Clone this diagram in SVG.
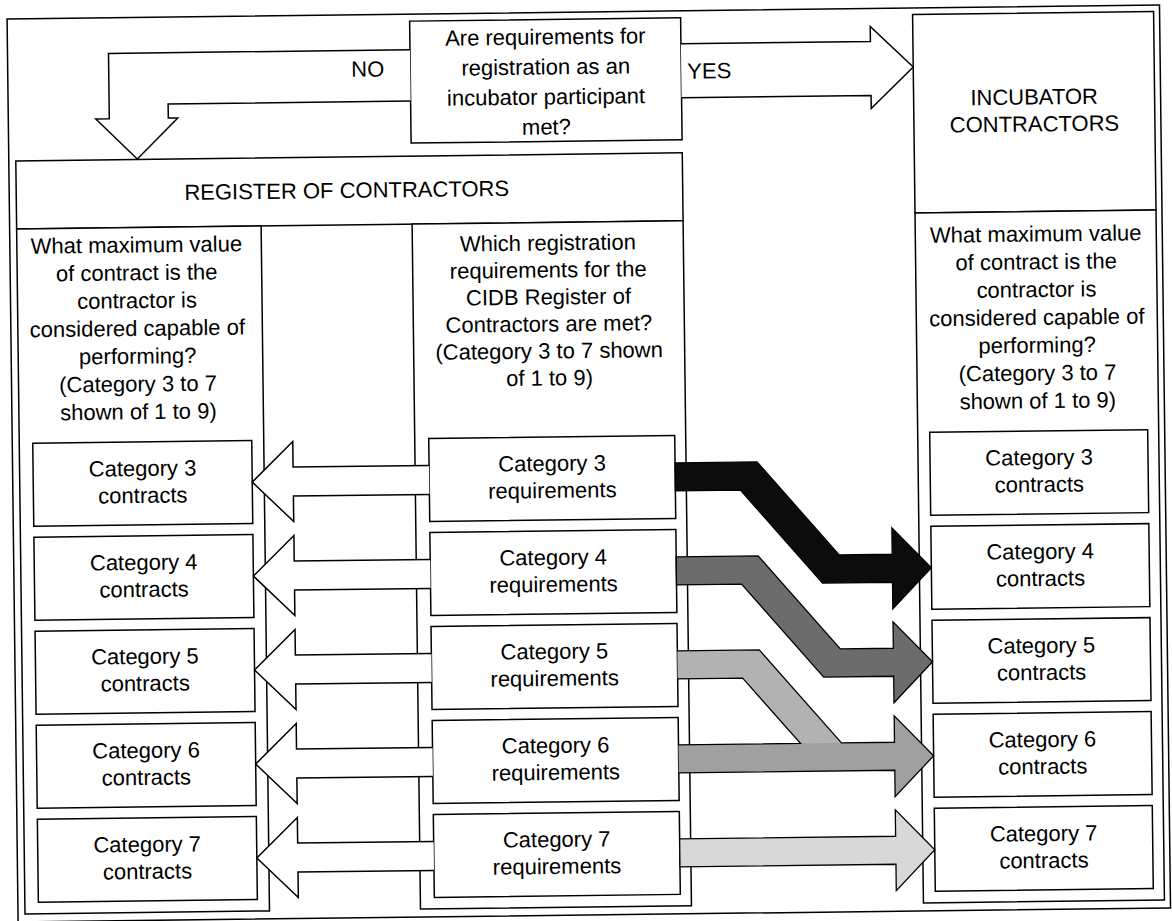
<svg xmlns="http://www.w3.org/2000/svg" width="1172" height="921" viewBox="0 0 1172 921">
<style>
.bx{fill:#fff;stroke:#000;stroke-width:1.5}
.ln{fill:none;stroke:#000;stroke-width:1.5}
.wa{fill:#fff;stroke:#000;stroke-width:1.5;stroke-linejoin:miter}
.ca{stroke:#000;stroke-width:1.3;stroke-linejoin:miter}
text{font-family:"Liberation Sans",Arial,sans-serif;font-size:22px;fill:#000;text-anchor:middle}
.st{text-anchor:start}
</style>
<rect width="1172" height="921" fill="#fff"/>
<g transform="rotate(-0.7 586 460)">
<rect id="frame" x="12.5" y="12" width="1152.5" height="903" class="ln"/>

<g id="question">
<rect x="415" y="19" width="271" height="122" class="bx"/>
<text x="550.5" y="44">Are requirements for</text>
<text x="550.5" y="74">registration as an</text>
<text x="550.5" y="104">incubator participant</text>
<text x="550.5" y="134">met?</text>
</g>

<g id="register">
<rect x="19.5" y="154" width="666.5" height="68" class="bx"/>
<text x="350" y="195">REGISTER OF CONTRACTORS</text>
</g>

<g id="left-column">
<rect x="19.5" y="222" width="244.5" height="685" class="bx"/>
<text x="139" y="247">What maximum value</text>
<text x="139" y="274.8">of contract is the</text>
<text x="139" y="302.6">contractor is</text>
<text x="139" y="330.4">considered capable of</text>
<text x="139" y="358.2">performing?</text>
<text x="139" y="386">(Category 3 to 7</text>
<text x="139" y="413.8">shown of 1 to 9)</text>
</g>

<g id="middle-column">
<rect x="415" y="222" width="271" height="685" class="bx"/>
<text x="550.5" y="250">Which registration</text>
<text x="550.5" y="277">requirements for the</text>
<text x="550.5" y="304">CIDB Register of</text>
<text x="550.5" y="331">Contractors are met?</text>
<text x="550.5" y="358">(Category 3 to 7 shown</text>
<text x="550.5" y="385">of 1 to 9)</text>
</g>

<g id="incubator">
<rect x="918" y="18.5" width="241" height="198.5" class="bx"/>
<text x="1038.5" y="110">INCUBATOR</text>
<text x="1038.5" y="137">CONTRACTORS</text>
</g>

<g id="right-column">
<rect x="918" y="217" width="241" height="690" class="bx"/>
<text x="1038.5" y="247">What maximum value</text>
<text x="1038.5" y="274.8">of contract is the</text>
<text x="1038.5" y="302.6">contractor is</text>
<text x="1038.5" y="330.4">considered capable of</text>
<text x="1038.5" y="358.2">performing?</text>
<text x="1038.5" y="386">(Category 3 to 7</text>
<text x="1038.5" y="413.8">shown of 1 to 9)</text>
</g>

<g id="left-cat3"><rect x="33" y="436.5" width="219" height="83" class="bx"/><text x="142.5" y="470.5">Category 3</text><text x="142.5" y="497.5">contracts</text></g>
<g id="left-cat4"><rect x="33" y="530.5" width="219" height="83" class="bx"/><text x="142.5" y="564.5">Category 4</text><text x="142.5" y="591.5">contracts</text></g>
<g id="left-cat5"><rect x="33" y="624.5" width="219" height="83" class="bx"/><text x="142.5" y="658.5">Category 5</text><text x="142.5" y="685.5">contracts</text></g>
<g id="left-cat6"><rect x="33" y="718.5" width="219" height="83" class="bx"/><text x="142.5" y="752.5">Category 6</text><text x="142.5" y="779.5">contracts</text></g>
<g id="left-cat7"><rect x="33" y="812.5" width="219" height="83" class="bx"/><text x="142.5" y="846.5">Category 7</text><text x="142.5" y="873.5">contracts</text></g>

<g id="req-cat3"><rect x="429" y="436.5" width="246" height="83" class="bx"/><text x="552" y="470.5">Category 3</text><text x="552" y="497.5">requirements</text></g>
<g id="req-cat4"><rect x="429" y="530.5" width="246" height="83" class="bx"/><text x="552" y="564.5">Category 4</text><text x="552" y="591.5">requirements</text></g>
<g id="req-cat5"><rect x="429" y="624.5" width="246" height="83" class="bx"/><text x="552" y="658.5">Category 5</text><text x="552" y="685.5">requirements</text></g>
<g id="req-cat6"><rect x="429" y="718.5" width="246" height="83" class="bx"/><text x="552" y="752.5">Category 6</text><text x="552" y="779.5">requirements</text></g>
<g id="req-cat7"><rect x="429" y="812.5" width="246" height="83" class="bx"/><text x="552" y="846.5">Category 7</text><text x="552" y="873.5">requirements</text></g>

<g id="inc-cat3"><rect x="930" y="436.5" width="218" height="83" class="bx"/><text x="1039" y="470.5">Category 3</text><text x="1039" y="497.5">contracts</text></g>
<g id="inc-cat4"><rect x="930" y="530.5" width="218" height="83" class="bx"/><text x="1039" y="564.5">Category 4</text><text x="1039" y="591.5">contracts</text></g>
<g id="inc-cat5"><rect x="930" y="624.5" width="218" height="83" class="bx"/><text x="1039" y="658.5">Category 5</text><text x="1039" y="685.5">contracts</text></g>
<g id="inc-cat6"><rect x="930" y="718.5" width="218" height="83" class="bx"/><text x="1039" y="752.5">Category 6</text><text x="1039" y="779.5">contracts</text></g>
<g id="inc-cat7"><rect x="930" y="812.5" width="218" height="83" class="bx"/><text x="1039" y="846.5">Category 7</text><text x="1039" y="873.5">contracts</text></g>

<g id="connectors">
<path class="wa" d="M415,47.6 L113.5,47.6 L113.5,113 L100,113 L141,153.5 L182,113 L172.5,113 L172.5,99 L415,99"/>
<text class="st" x="356" y="74">NO</text>
<path class="wa" d="M686,45 L875.5,45 L875.5,30 L918,71 L875.5,112 L875.5,99 L686,99"/>
<text class="st" x="692" y="80">YES</text>

<path class="wa" d="M429,463.5 L293,463.5 L293,438 L252,478 L293,518 L293,492.5 L429,492.5"/>
<path class="wa" d="M429,557.5 L293,557.5 L293,532 L252,572 L293,612 L293,586.5 L429,586.5"/>
<path class="wa" d="M429,651.5 L293,651.5 L293,626 L252,666 L293,706 L293,680.5 L429,680.5"/>
<path class="wa" d="M429,745.5 L293,745.5 L293,720 L252,760 L293,800 L293,774.5 L429,774.5"/>
<path class="wa" d="M429,839.5 L293,839.5 L293,814 L252,854 L293,894 L293,868.5 L429,868.5"/>

<path class="ca" fill="#0c0c0c" d="M675,464 L757,464 L838,558 L891,558 L891,531.5 L930,572 L891,612.5 L891,586 L821,586 L740,492 L675,492 Z"/>
<path class="ca" fill="#6c6c6c" d="M675,558 L757,558 L838,652 L891,652 L891,625.5 L930,666 L891,706.5 L891,680 L821,680 L740,586 L675,586 Z"/>
<path fill="#b2b2b2" d="M675,652 L757,652 L838,746.5 L797,746.5 L740,680 L675,680 Z"/>
<path fill="#a0a0a0" d="M675,746 L891,746 L891,719.5 L930,760 L891,800.5 L891,774 L675,774 Z"/>
<path class="ca" fill="none" d="M675,652 L757,652 L838,746 L891,746 L891,719.5 L930,760 L891,800.5 L891,774 L675,774 M675,746 L797,746 L740,680 L675,680"/>
<path class="ca" fill="#d8d8d8" d="M675,840 L891,840 L891,813.5 L930,854 L891,894.5 L891,868 L675,868 Z"/>
</g>
</g>
</svg>
